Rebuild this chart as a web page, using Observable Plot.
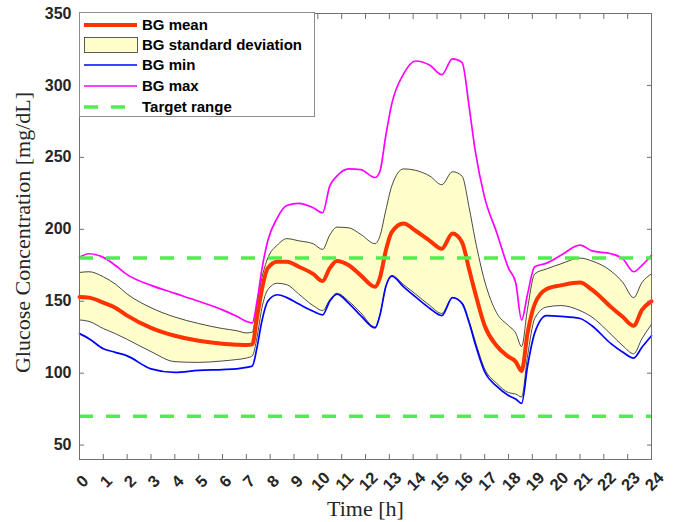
<!DOCTYPE html>
<html><head><meta charset="utf-8">
<script src="https://cdn.jsdelivr.net/npm/d3@7"></script>
<script src="https://cdn.jsdelivr.net/npm/@observablehq/plot@0.6"></script>
<style>
body{margin:0;background:#fff;}
#wrap{position:relative;width:682px;height:522px;}
#legend{position:absolute;left:79px;top:12px;}
</style></head><body><div id="wrap"></div>
<script>
// Time grid [h]
const hours = [0, 0.4, 1, 1.5, 2, 3, 4, 5, 6, 6.6, 7, 7.25, 7.45, 7.65, 7.9, 8.3, 8.7, 9.2, 9.8, 10.2, 10.5, 10.8, 11.3, 11.8, 12.4, 12.6, 12.85, 13.1, 13.6, 14.1, 14.7, 15.2, 15.65, 16.05, 16.35, 16.6, 17.0, 17.5, 18.0, 18.3, 18.55, 18.8, 19.1, 19.6, 20.2, 21.0, 21.5, 22.3, 22.8, 23.25, 23.6, 24];
const bgMean = [153, 152.5, 149, 145.5, 140, 131.5, 126, 122.5, 120.5, 119.8, 119.5, 120, 139, 158, 173, 177.5, 177.5, 174, 169, 164, 173, 178, 175, 168, 160, 166, 185, 198, 204, 199, 192, 186.5, 197, 191, 172, 156, 133, 119, 111.5, 108, 101.5, 128, 148, 158.5, 161, 163, 158, 146, 139, 133, 144, 150];
const bgSdUpper = [170, 170.5, 167, 162, 155, 145.5, 139, 134.5, 131, 129.5, 128, 128.5, 148, 166, 180, 189, 193.5, 192, 190, 186, 196, 201.5, 201, 196.5, 190, 195, 213, 230, 242, 241, 237, 231, 240, 237, 215, 193, 164, 142, 133, 128, 118.5, 145, 169, 172.5, 176, 180, 178, 171, 163, 152.5, 163, 169];
const bgSdLower = [137, 136, 131, 127.5, 123.5, 115, 108, 107.5, 108.5, 109.5, 110.5, 112, 125, 145, 158, 162.5, 161.5, 155, 147, 143.5, 151, 155.5, 150, 142, 132, 140, 160, 168, 161.5, 155, 147, 141.5, 152.5, 149, 136, 122.5, 103, 93, 86.5, 85.5, 83.5, 112, 138, 146, 147, 143.5, 139, 127, 119, 113.5, 124, 134];
const bgMin = [127.5, 124, 117, 114.5, 112, 103, 100.5, 102, 102.5, 103, 104, 105, 118, 136, 150, 154.5, 152.5, 148, 143, 140.5, 150, 155, 148.5, 140, 131.5, 140, 160, 167.5, 160, 153, 145, 140, 152.5, 148.5, 135, 120.5, 101, 91, 84.5, 82, 79, 105, 128, 140, 139.5, 138, 133, 120.5, 114.5, 110.5, 118, 126];
const bgMax = [180.5, 183, 180.5, 175, 168.5, 161, 155.5, 150, 144, 139.5, 136, 135, 150, 172, 192, 208, 216.5, 218, 215, 211.5, 230, 237, 242, 241.5, 236, 240, 265, 287, 308, 317, 314, 307.5, 318.5, 316, 285, 255, 222, 198, 173, 163, 137, 155, 174, 176.5, 182, 189, 185, 183, 179.5, 170.5, 175, 182];
const targetRange = [70, 180];
const yTicks = [50, 100, 150, 200, 250, 300, 350];
const xTicks = [0, 1, 2, 3, 4, 5, 6, 7, 8, 9, 10, 11, 12, 13, 14, 15, 16, 17, 18, 19, 20, 21, 22, 23, 24];
const legendLabels = ["BG mean", "BG standard deviation", "BG min", "BG max", "Target range"];

const C = {mean: "#ff3300", sdFill: "#ffffcc", sdEdge: "#1a1a1a", min: "#0000ff", max: "#ff00ff", target: "#4cf04c", axis: "#707070", text: "#262626"};
const sans = "'Liberation Sans', Arial, Helvetica, sans-serif";
const serif = "'Liberation Serif', 'DejaVu Serif', serif";

const rows = hours.map((t, i) => ({t, mean: bgMean[i], hi: bgSdUpper[i], lo: bgSdLower[i], min: bgMin[i], max: bgMax[i]}));
const curve = "monotone-x";

const chart = Plot.plot({
  width: 682, height: 522,
  marginLeft: 79, marginRight: 31, marginTop: 13, marginBottom: 63,
  x: {domain: [0, 24]},
  y: {domain: [40, 350]},
  style: {fontFamily: sans, background: "#fff", overflow: "visible"},
  marks: [
    Plot.areaY(rows, {x: "t", y1: "lo", y2: "hi", fill: C.sdFill, curve}),
    Plot.line(rows, {x: "t", y: "hi", stroke: C.sdEdge, strokeWidth: 0.8, curve}),
    Plot.line(rows, {x: "t", y: "lo", stroke: C.sdEdge, strokeWidth: 0.8, curve}),
    Plot.line(rows, {x: "t", y: "min", stroke: C.min, strokeWidth: 1.7, curve}),
    Plot.line(rows, {x: "t", y: "max", stroke: C.max, strokeWidth: 1.7, curve}),
    Plot.line(rows, {x: "t", y: "mean", stroke: C.mean, strokeWidth: 4, curve}),
    Plot.ruleY(targetRange, {stroke: C.target, strokeWidth: 3.5, strokeDasharray: "14,13"}),
    Plot.frame({stroke: C.axis, strokeWidth: 1}),
    Plot.axisY(yTicks, {anchor: "left", tickSize: -5, tickPadding: 13, stroke: C.axis, fill: C.text, fontSize: 16, fontWeight: "bold", fontFamily: sans, label: null}),
    Plot.axisY(yTicks, {anchor: "right", tickSize: -5, stroke: C.axis, tickFormat: () => "", label: null}),
    Plot.axisX(xTicks, {anchor: "bottom", tickSize: -5, stroke: C.axis, tickFormat: () => "", label: null}),
    Plot.axisX(xTicks, {anchor: "top", tickSize: -5, stroke: C.axis, tickFormat: () => "", label: null}),
    Plot.text(xTicks, {x: d => d, text: d => String(d), frameAnchor: "bottom", lineAnchor: "middle", dy: 22, dx: 3, rotate: -45, textAnchor: "middle", fontSize: 16.5, fontWeight: "bold", fontFamily: sans, fill: C.text}),
    Plot.text(["Time [h]"], {frameAnchor: "bottom", lineAnchor: "middle", textAnchor: "middle", dy: 49, text: d => d, fontSize: 22, fontWeight: "normal", fontFamily: serif, fill: C.text}),
    Plot.text(["Glucose Concentration [mg/dL]"], {frameAnchor: "left", lineAnchor: "middle", textAnchor: "middle", dx: -57, dy: -4, rotate: -90, text: d => d, fontSize: 22, fontWeight: "normal", fontFamily: serif, fill: C.text})
  ]
});
const wrap = document.getElementById("wrap");
wrap.appendChild(chart);

// Legend (inside axes, top-left)
const lw = 236, lh = 105;
const leg = d3.select(wrap).append("svg").attr("id", "legend").attr("width", lw).attr("height", lh);
leg.append("rect").attr("x", 0.5).attr("y", 0.5).attr("width", lw - 1).attr("height", lh - 1).attr("fill", "#fff").attr("stroke", "#8c8c8c");
const rowY = [13, 33, 53, 74, 95];
const styles = [
  {type: "line", stroke: C.mean, w: 4},
  {type: "rect"},
  {type: "line", stroke: C.min, w: 1.7},
  {type: "line", stroke: C.max, w: 1.7},
  {type: "line", stroke: C.target, w: 3.5, dash: "14,13"}
];
legendLabels.forEach((lab, i) => {
  const y = rowY[i], s = styles[i];
  if (s.type === "rect") {
    leg.append("rect").attr("x", 5.5).attr("y", y - 7.5).attr("width", 53).attr("height", 15).attr("fill", C.sdFill).attr("stroke", "#333").attr("stroke-width", 0.8);
  } else {
    const l = leg.append("line").attr("x1", 5).attr("x2", 58).attr("y1", y).attr("y2", y).attr("stroke", s.stroke).attr("stroke-width", s.w);
    if (s.dash) l.attr("stroke-dasharray", s.dash);
  }
  leg.append("text").attr("x", 63).attr("y", y).attr("dy", "0.35em").attr("font-family", sans).attr("font-weight", "bold").attr("font-size", 15).attr("fill", "#000").text(lab);
});
</script></body></html>
